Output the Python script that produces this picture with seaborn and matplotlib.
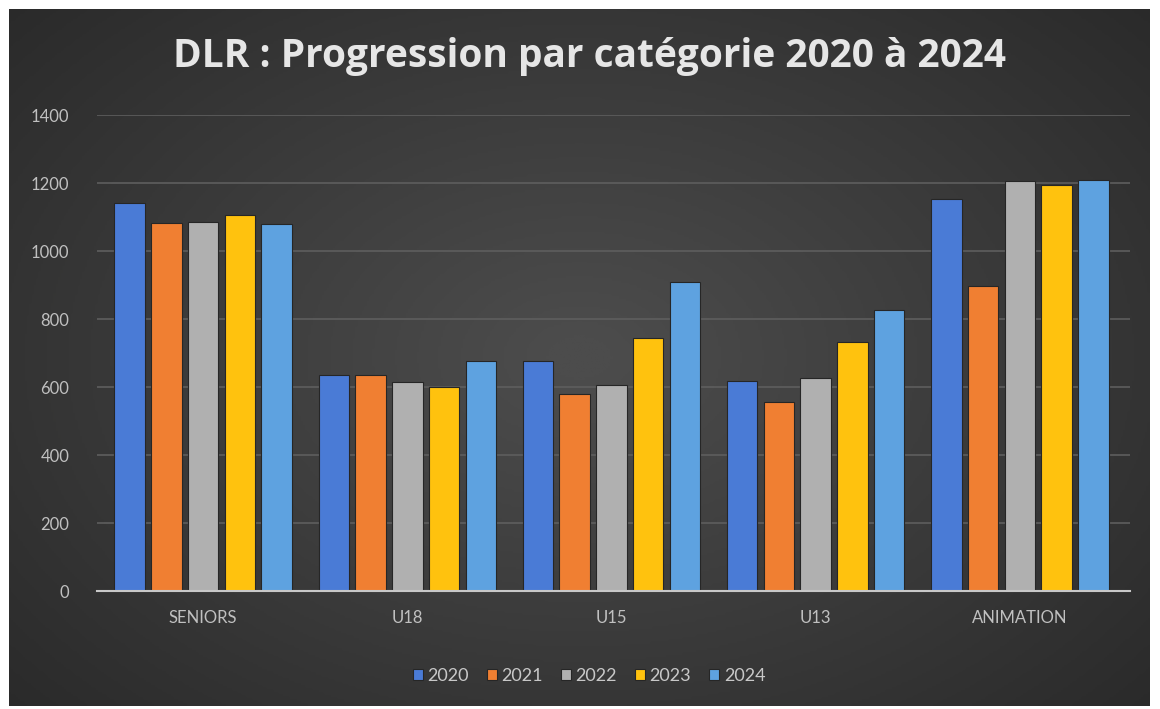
import numpy as np
import pandas as pd
import matplotlib
matplotlib.use("Agg")
import matplotlib.pyplot as plt
import seaborn as sns

# Values
categories = ["SENIORS", "U18", "U15", "U13", "ANIMATION"]
years = ["2020", "2021", "2022", "2023", "2024"]
v2020 = [1141, 635, 676, 618, 1153]
v2021 = [1082, 635, 579, 556, 897]
v2022 = [1085, 615, 606, 626, 1206]
v2023 = [1106, 600, 744, 732, 1194]
v2024 = [1079, 676, 909, 826, 1209]
colors = ["#4A7BD6", "#F07F32", "#B0B0B0", "#FFC20E", "#5EA2E0"]

# Long-format table for seaborn
rows = []
for year, vals in zip(years, [v2020, v2021, v2022, v2023, v2024]):
    for cat, v in zip(categories, vals):
        rows.append({"cat": cat, "year": year, "value": v})
df = pd.DataFrame(rows)

sns.set_style("dark")
plt.rcParams["font.family"] = ["Lato", "DejaVu Sans"]

fig = plt.figure(figsize=(11.6, 7.09), dpi=100)
fig.patch.set_facecolor("white")

# Dark radial-gradient background panel (Excel style)
bg = fig.add_axes([9 / 1160, 3 / 709, 1141 / 1160, 697 / 709])
yy, xx = np.mgrid[-1:1:300j, -1:1:500j]
r = np.sqrt((xx * 0.95) ** 2 + (yy * 0.85) ** 2)
bg.imshow(r, cmap=sns.dark_palette("#4c4c4c", as_cmap=True, reverse=True),
          vmin=0.05, vmax=1.45, aspect="auto", extent=(0, 1, 0, 1))
bg.set_axis_off()

ax = fig.add_axes([97 / 1160, 1 - 591 / 709, 1033 / 1160, 476 / 709])
ax.set_facecolor("none")
sns.barplot(data=df, x="cat", y="value", hue="year", palette=colors,
            width=0.9, gap=0.17, ax=ax, saturation=1,
            edgecolor="#262626", linewidth=0.8)

ax.set_ylim(0, 1400)
ax.set_xlim(-0.52, 4.54)
ax.set_yticks(range(0, 1401, 200))
ax.grid(axis="y", color="#5e5e5e", linewidth=1.2)
ax.grid(axis="x", visible=False)
ax.set_axisbelow(True)
for s in ["top", "right", "left"]:
    ax.spines[s].set_visible(False)
ax.spines["bottom"].set_color("#c8c8c8")
ax.spines["bottom"].set_linewidth(1.5)
ax.tick_params(axis="both", colors="#c0c0c0", labelsize=12, length=0)
ax.tick_params(axis="x", pad=14)
ax.tick_params(axis="y", pad=20)
ax.set_xlabel("")
ax.set_ylabel("")

fig.text(0.508, 0.92, "DLR : Progression par catégorie 2020 à 2024",
         ha="center", va="center", fontsize=28, fontweight="bold",
         color="#e6e6e6", family=["Open Sans", "DejaVu Sans"])

handles, labels = ax.get_legend_handles_labels()
ax.legend_.remove()
leg = fig.legend(handles, labels, loc="center", bbox_to_anchor=(0.508, 0.047),
                 ncol=5, frameon=False, fontsize=13, handlelength=0.55,
                 handleheight=0.55, handletextpad=0.25, columnspacing=1.0)
for t in leg.get_texts():
    t.set_color("#c8c8c8")

fig.savefig("out.png", dpi=100, facecolor=fig.get_facecolor())
